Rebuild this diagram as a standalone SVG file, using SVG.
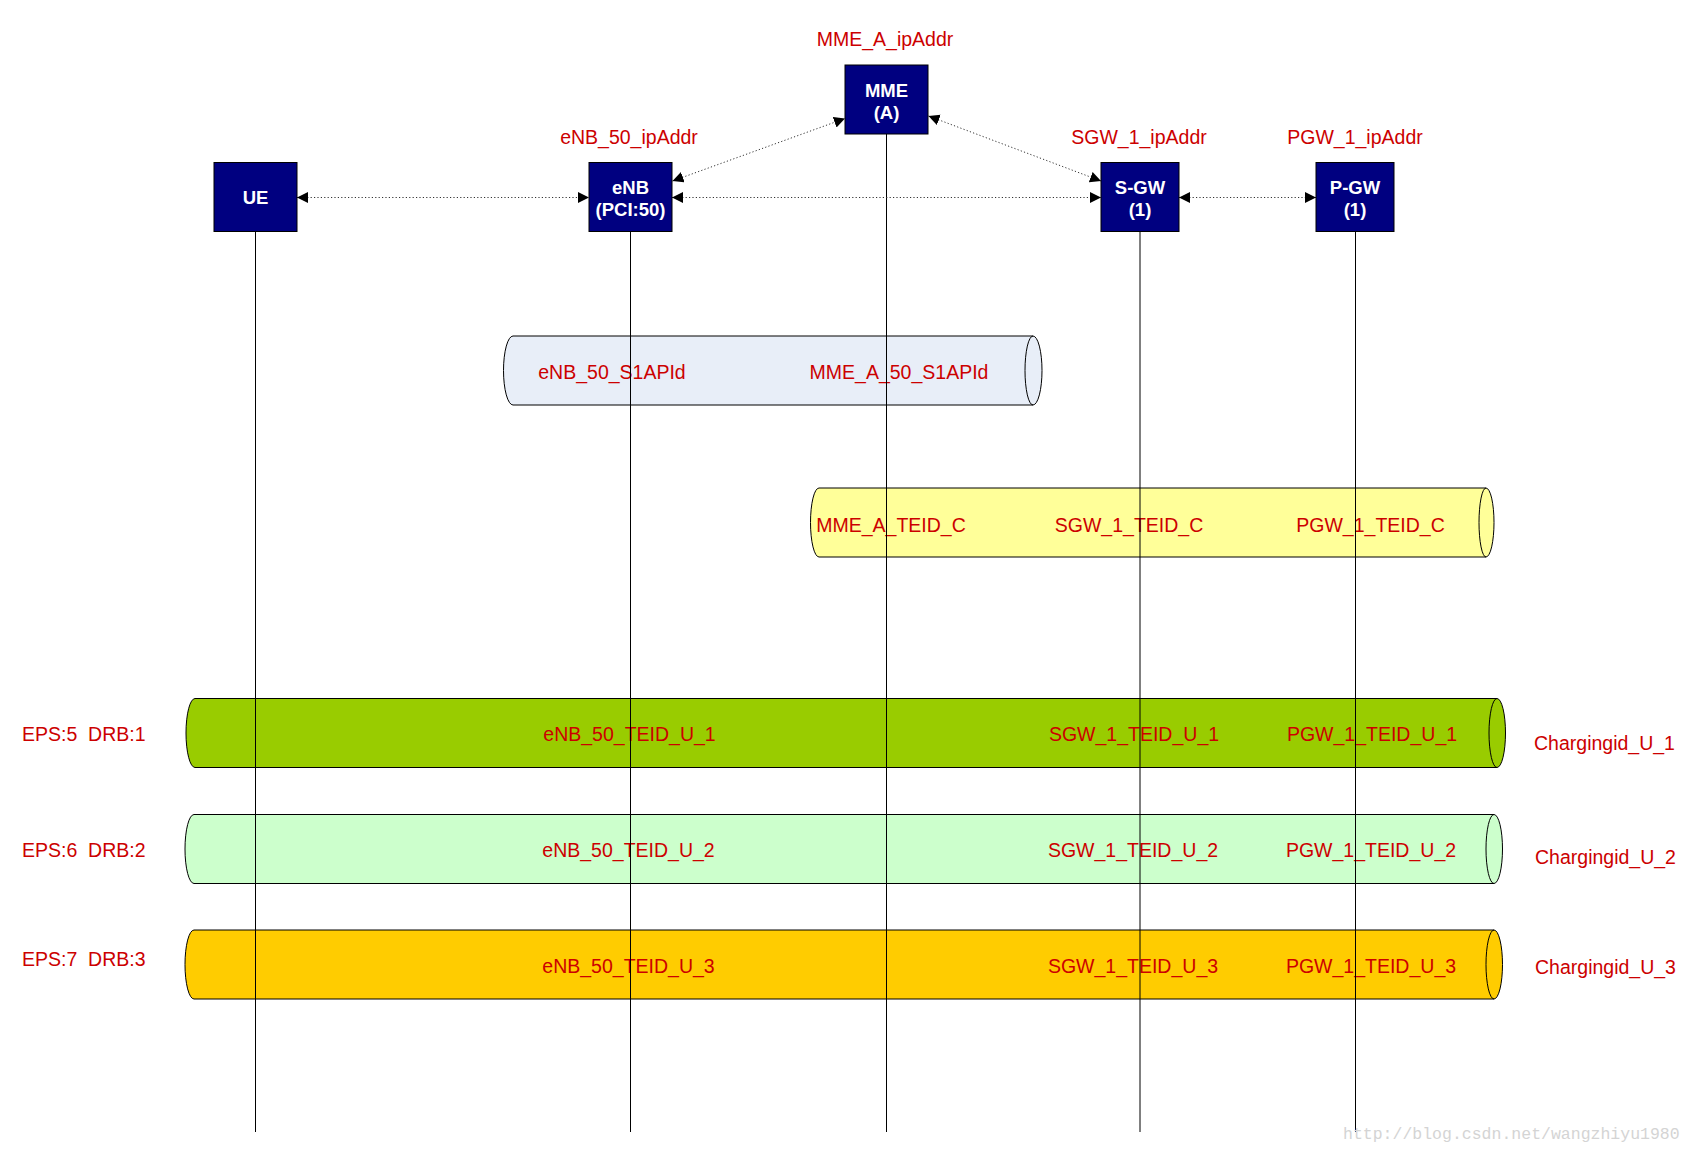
<svg xmlns="http://www.w3.org/2000/svg" width="1693" height="1156" viewBox="0 0 1693 1156">
<style>
.node{fill:#000080;stroke:#000;stroke-width:1}
.nt{font-family:"Liberation Sans",Arial,sans-serif;font-weight:bold;font-size:18.5px;fill:#fff;text-anchor:middle}
.lbl{font-family:"Liberation Sans",Arial,sans-serif;font-size:19.5px;fill:#CC0000}
.mid{text-anchor:middle}
.life{stroke:#000;stroke-width:1;fill:none}
.conn{stroke:#333;stroke-width:1;stroke-dasharray:1.2,2.2;fill:none;marker-start:url(#ah);marker-end:url(#ah)}
.pipe{stroke:#000;stroke-width:1}
.inner{fill:none;stroke:#000;stroke-width:1}
.wm{font-family:"Liberation Mono","DejaVu Sans Mono",monospace;font-size:16.5px;fill:#D4D4D4}
</style>
<defs>
<marker id="ah" markerUnits="userSpaceOnUse" markerWidth="12" markerHeight="12" refX="11" refY="5.5" orient="auto-start-reverse">
<path d="M0,0 L11,5.5 L0,11 Z" fill="#000"/>
</marker>
</defs>
<rect width="1693" height="1156" fill="#fff"/>

<g id="pipe-s1ap">
<path class="pipe" fill="#E8EEF8" d="M513,336 L1033,336 A9,34.5 0 0 1 1033,405 L513,405 A9.5,34.5 0 0 1 513,336 Z"/>
<path class="inner" d="M1033,336 A8,34.5 0 0 0 1033,405"/>
<text class="lbl mid" x="612" y="379">eNB_50_S1APId</text>
<text class="lbl mid" x="899" y="379">MME_A_50_S1APId</text>
</g>
<g id="pipe-teid-c">
<path class="pipe" fill="#FFFF99" d="M819,488 L1486,488 A8,34.5 0 0 1 1486,557 L819,557 A8.5,34.5 0 0 1 819,488 Z"/>
<path class="inner" d="M1486,488 A7,34.5 0 0 0 1486,557"/>
<text class="lbl mid" x="891" y="531.5">MME_A_TEID_C</text>
<text class="lbl mid" x="1129" y="531.5">SGW_1_TEID_C</text>
<text class="lbl mid" x="1370.5" y="531.5">PGW_1_TEID_C</text>
</g>
<g id="pipe-u1">
<path class="pipe" fill="#99CC00" d="M195,698.5 L1497,698.5 A8.5,34.5 0 0 1 1497,767.5 L195,767.5 A9,34.5 0 0 1 195,698.5 Z"/>
<path class="inner" d="M1497,698.5 A8,34.5 0 0 0 1497,767.5"/>
<text class="lbl" x="22" y="741" xml:space="preserve">EPS:5  DRB:1</text>
<text class="lbl mid" x="629.5" y="741">eNB_50_TEID_U_1</text>
<text class="lbl mid" x="1134" y="741">SGW_1_TEID_U_1</text>
<text class="lbl mid" x="1372" y="741">PGW_1_TEID_U_1</text>
<text class="lbl mid" x="1604.5" y="749.5">Chargingid_U_1</text>
</g>
<g id="pipe-u2">
<path class="pipe" fill="#CCFFCC" d="M194,814.5 L1494,814.5 A8.5,34.5 0 0 1 1494,883.5 L194,883.5 A9,34.5 0 0 1 194,814.5 Z"/>
<path class="inner" d="M1494,814.5 A8,34.5 0 0 0 1494,883.5"/>
<text class="lbl" x="22" y="857" xml:space="preserve">EPS:6  DRB:2</text>
<text class="lbl mid" x="628.5" y="857">eNB_50_TEID_U_2</text>
<text class="lbl mid" x="1133" y="857">SGW_1_TEID_U_2</text>
<text class="lbl mid" x="1371" y="857">PGW_1_TEID_U_2</text>
<text class="lbl mid" x="1605.5" y="864">Chargingid_U_2</text>
</g>
<g id="pipe-u3">
<path class="pipe" fill="#FFCC00" d="M194,930 L1494,930 A8.5,34.5 0 0 1 1494,999 L194,999 A9,34.5 0 0 1 194,930 Z"/>
<path class="inner" d="M1494,930 A8,34.5 0 0 0 1494,999"/>
<text class="lbl" x="22" y="966" xml:space="preserve">EPS:7  DRB:3</text>
<text class="lbl mid" x="628.5" y="972.5">eNB_50_TEID_U_3</text>
<text class="lbl mid" x="1133" y="972.5">SGW_1_TEID_U_3</text>
<text class="lbl mid" x="1371" y="972.5">PGW_1_TEID_U_3</text>
<text class="lbl mid" x="1605.5" y="973.5">Chargingid_U_3</text>
</g>

<g id="lifelines">
<line class="life" x1="255.5" y1="231" x2="255.5" y2="1132"/>
<line class="life" x1="630.5" y1="231" x2="630.5" y2="1132"/>
<line class="life" x1="886.5" y1="134" x2="886.5" y2="1132"/>
<line class="life" x1="1140" y1="231" x2="1140" y2="1132"/>
<line class="life" x1="1355.5" y1="231" x2="1355.5" y2="1132"/>
</g>

<g id="connectors">
<line class="conn" x1="297" y1="197.5" x2="589" y2="197.5"/>
<line class="conn" x1="672" y1="197.5" x2="1101" y2="197.5"/>
<line class="conn" x1="1179" y1="197.5" x2="1316" y2="197.5"/>
<line class="conn" x1="672.5" y1="181" x2="845" y2="118.5"/>
<line class="conn" x1="928.5" y1="116" x2="1101" y2="181"/>
</g>

<g id="node-ue">
<rect class="node" x="214" y="162.5" width="83" height="69"/>
<text class="nt" x="255.5" y="204">UE</text>
</g>
<g id="node-enb">
<rect class="node" x="589" y="162.5" width="83" height="69"/>
<text class="nt" x="630.5" y="193.5">eNB</text>
<text class="nt" x="630.5" y="215.5">(PCI:50)</text>
<text class="lbl mid" x="629" y="143.5">eNB_50_ipAddr</text>
</g>
<g id="node-mme">
<rect class="node" x="845" y="65" width="83" height="69"/>
<text class="nt" x="886.5" y="96.5">MME</text>
<text class="nt" x="886.5" y="118.5">(A)</text>
<text class="lbl mid" x="885" y="45.5">MME_A_ipAddr</text>
</g>
<g id="node-sgw">
<rect class="node" x="1101" y="162.5" width="78" height="69"/>
<text class="nt" x="1140" y="193.5">S-GW</text>
<text class="nt" x="1140" y="215.5">(1)</text>
<text class="lbl mid" x="1139" y="143.5">SGW_1_ipAddr</text>
</g>
<g id="node-pgw">
<rect class="node" x="1316" y="162.5" width="78" height="69"/>
<text class="nt" x="1355" y="193.5">P-GW</text>
<text class="nt" x="1355" y="215.5">(1)</text>
<text class="lbl mid" x="1355" y="143.5">PGW_1_ipAddr</text>
</g>

<text class="wm" x="1343" y="1138.5">http://blog.csdn.net/wangzhiyu1980</text>
</svg>
